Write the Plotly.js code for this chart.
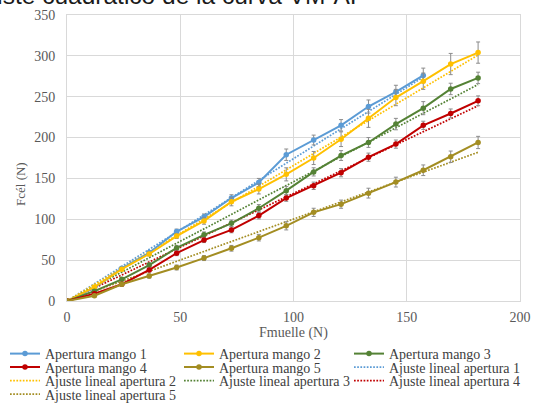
<!DOCTYPE html>
<html>
<head>
<meta charset="utf-8">
<script src="https://cdn.plot.ly/plotly-3.0.1.min.js"></script>
<style>html,body{margin:0;padding:0;background:#fff;}#chart{width:546px;height:405px;}</style>
</head>
<body>
<div id="chart"></div>
<script>
// ---- data ----
const fmuelle = [0, 12.1, 24.2, 36.3, 48.4, 60.5, 72.6, 84.7, 96.8, 108.9, 121.0, 133.1, 145.2, 157.3, 169.4, 181.5];
const fmuelle1 = [0, 12.1, 24.2, 36.3, 48.4, 60.5, 72.6, 84.7, 96.8, 108.9, 121.0, 133.1, 145.2, 157.3];

const mango1 = [0, 16, 40, 59, 85, 103, 126, 145, 179, 197, 215, 238, 256, 276];
const mango2 = [0, 17, 39, 57.5, 79.5, 98, 121.5, 137, 155, 175, 198, 223.5, 249, 269, 290, 304];
const mango3 = [0, 12, 26.5, 44, 65, 81, 95, 113.5, 135, 158, 178, 194, 216.5, 236, 259.5, 273];
const mango4 = [0, 9, 20.5, 38, 58.5, 74.5, 87, 104.5, 126, 141, 157, 176, 192, 215, 229.5, 245];
const mango5 = [0, 6.5, 20.5, 30.5, 41, 52.5, 64.5, 77.5, 92, 108.5, 118.5, 132, 145.5, 160, 176.5, 194];

const err1 = [0, 1.5, 2, 2.5, 3, 3.5, 4, 5, 7, 6, 7, 8, 8, 9];
const err2 = [0, 1.5, 2, 2.5, 3, 4, 5, 6, 8, 8, 9, 11, 10, 10, 13, 13];
const err3 = [0, 1.5, 2, 2.5, 3, 3.5, 4, 4.5, 5, 5, 6, 6, 7, 8, 7, 7];
const err4 = [0, 1.5, 2, 2.5, 3, 3, 3.5, 4, 4, 4.5, 5, 5, 5, 5, 5.5, 6];
const err5 = [0, 1.5, 2, 2.5, 3, 3, 3.5, 4, 5, 5, 5, 6, 6, 6.5, 7, 7.5];

// linear fit lines (end points)
const fitX1 = [0, 157.3];
const fitY1 = [0, 274];
const fitX = [0, 181.5];
const fitY2 = [0, 301];
const fitY3 = [0, 265];
const fitY4 = [0, 239];
const fitY5 = [0, 182];

const names = ["Apertura mango 1", "Apertura mango 2", "Apertura mango 3", "Apertura mango 4", "Apertura mango 5",
  "Ajuste lineal apertura 1", "Ajuste lineal apertura 2", "Ajuste lineal apertura 3", "Ajuste lineal apertura 4", "Ajuste lineal apertura 5"];
const colors = ["#5b9bd5", "#ffc000", "#548235", "#c00000", "#a38d22"];
const xTicks = [0, 50, 100, 150, 200];
const yTicks = [0, 50, 100, 150, 200, 250, 300, 350];

const serif = "Liberation Serif";
const legendIds = names.map((n, i) => i === 0 ? "legend" : "legend" + (i + 1));

function dataTrace(x, y, e, i) {
  return {
    x: x, y: y, type: "scatter", mode: "lines+markers", name: names[i], legend: legendIds[i],
    line: {color: colors[i], width: 2},
    marker: {color: colors[i], size: 5.5},
    error_y: {type: "data", array: e, visible: true, color: "#8c8c8c", thickness: 1, width: 2}
  };
}
function fitTrace(x, y, i) {
  return {
    x: x, y: y, type: "scatter", mode: "lines", name: names[i + 5], legend: legendIds[i + 5],
    line: {color: colors[i], width: 1.7, dash: "1.7px,1.5px"}
  };
}

const dataTraces = [
  dataTrace(fmuelle1, mango1, err1, 0),
  dataTrace(fmuelle, mango2, err2, 1),
  dataTrace(fmuelle, mango3, err3, 2),
  dataTrace(fmuelle, mango4, err4, 3),
  dataTrace(fmuelle, mango5, err5, 4)
];
const fitTraces = [
  fitTrace(fitX1, fitY1, 0),
  fitTrace(fitX, fitY2, 1),
  fitTrace(fitX, fitY3, 2),
  fitTrace(fitX, fitY4, 3),
  fitTrace(fitX, fitY5, 4)
];
const ordered = fitTraces.concat(dataTraces);

const L = 67, R = 26, T = 15, B = 104, W = 546, H = 405;
const pw = W - L - R, ph = H - T - B;
const px2x = p => (p - L) / pw;
const py2y = p => (H - B - p) / ph;

const colX = [5, 179, 349];
const rowY = [354, 367.5, 381, 394.5];

const layout = {
  width: W, height: H,
  margin: {l: L, r: R, t: T, b: B, autoexpand: false},
  paper_bgcolor: "#ffffff", plot_bgcolor: "#ffffff",
  font: {family: serif, size: 13, color: "#595959"},
  showlegend: true,
  xaxis: {
    range: [0, 200], tickvals: xTicks, ticktext: xTicks.map(String), showgrid: true, gridcolor: "#d9d9d9", gridwidth: 1,
    zeroline: false, showline: true, linecolor: "#d9d9d9", mirror: true, ticks: "",
    tickfont: {family: serif, size: 14, color: "#595959"}, ticklabelstandoff: 3,
    title: {text: "Fmuelle (N)", font: {family: serif, size: 14, color: "#595959"}, standoff: 1}
  },
  yaxis: {
    range: [0, 350], tickvals: yTicks, ticktext: yTicks.map(String), showgrid: true, gridcolor: "#d9d9d9", gridwidth: 1,
    zeroline: false, showline: true, linecolor: "#d9d9d9", mirror: true, ticks: "",
    tickfont: {family: serif, size: 14, color: "#595959"}, ticklabelstandoff: 8
  },
  annotations: [
    {text: "Fcél (N)", textangle: -90, xref: "paper", yref: "paper", x: px2x(21), y: py2y(184),
     xanchor: "center", yanchor: "middle", showarrow: false, font: {family: serif, size: 13, color: "#595959"}},
    {text: "ajuste cuadrático de la curva VM-AP", xref: "paper", yref: "paper", x: px2x(368), y: py2y(-4.5),
     xanchor: "right", yanchor: "middle", showarrow: false, font: {family: "Liberation Sans", size: 24.5, color: "#1a1a1a"}}
  ]
};
legendIds.forEach((k, i) => {
  layout[k] = {
    orientation: "h", itemwidth: 30,
    font: {family: serif, size: 14, color: "#404040"}, bgcolor: "rgba(0,0,0,0)",
    x: px2x(colX[i % 3]), xanchor: "left",
    y: py2y(rowY[Math.floor(i / 3)]), yanchor: "middle"
  };
});

Plotly.newPlot("chart", ordered, layout, {displayModeBar: false, staticPlot: true});
</script>
</body>
</html>
